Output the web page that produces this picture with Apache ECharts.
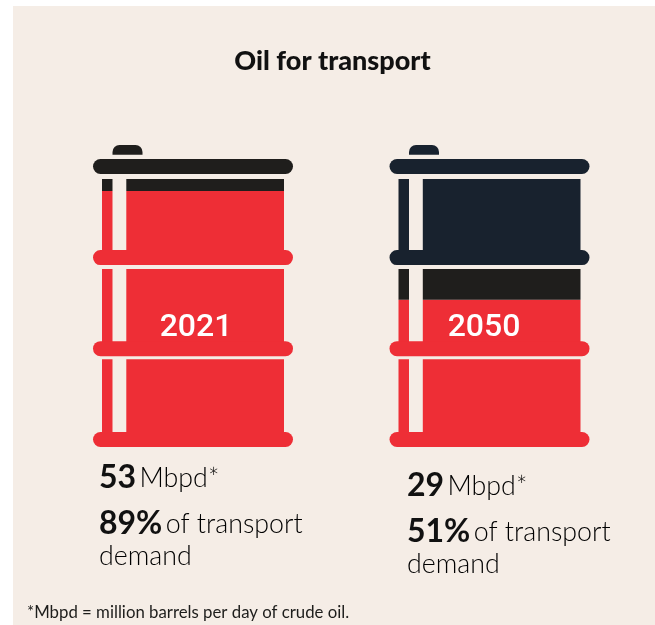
<!DOCTYPE html>
<html><head><meta charset="utf-8">
<style>html,body{margin:0;padding:0;background:#fff}#c{width:655px;height:625px}</style>
<script src="https://cdn.jsdelivr.net/npm/echarts@6/dist/echarts.min.js"></script>
</head><body><div id="c"></div>
<script>
// Data
const years = ['2021', '2050'];
const oilForTransport = [95.3, 52.3];   // red level, % of barrel height
const otherOil = [4.7, 12.1];           // black band
const notNeeded = [0, 35.6];            // navy band
const mbpd = [53, 29];
const transportShare = [89, 51];

const RED = '#ee2e36', BLACK = '#1f1e1c', NAVY = '#18222e', BG = '#f5ede6';
const FONT = 'Lato, "Open Sans", sans-serif';
const segColor = [RED, BLACK, NAVY];

function levelColor(i, level) {
  const parts = [oilForTransport[i], otherOil[i], notNeeded[i]];
  let acc = 0, last = 0;
  for (let k = 0; k < parts.length; k++) {
    if (parts[k] > 0) last = k;
    acc += parts[k];
    if (level <= acc && parts[k] > 0) return segColor[k];
  }
  return segColor[last];
}

function renderBarrel(params, api) {
  const i = api.value(0);
  const bottom = api.coord([i, 0]);
  const cx = bottom[0], y0 = bottom[1];
  const Y = lv => api.coord([i, lv])[1];
  const els = [];
  const bgRect = (x, y, w, h) => ({ type: 'rect', shape: { x, y, width: w, height: h }, style: { fill: BG } });
  const halfBody = 91.5, halfRim = 100;
  els.push(bgRect(cx - 80.5, Y(100), 13.8, y0 - Y(100)));
  [100, 64.4, 28.8].forEach(lv => els.push(bgRect(cx - halfBody - 2, Y(lv) - 5, halfBody * 2 + 4, 5)));
  [107.9, 71.9, 35.9, 0].forEach(lv => {
    els.push({ type: 'rect', shape: { x: cx - halfRim, y: Y(lv), width: halfRim * 2, height: 15, r: 7.5 },
      style: { fill: levelColor(i, lv) } });
  });
  els.push({ type: 'rect', shape: { x: cx - 80.5, y: Y(100) - 34, width: 30, height: 9.7, r: [7, 7, 0, 0] },
    style: { fill: levelColor(i, 200) } });
  els.push({ type: 'text', style: { x: cx + (i === 0 ? 3 : -5.5), y: 328, text: years[i], fill: '#fff',
    font: '500 32px Roboto, sans-serif', textAlign: 'center', textVerticalAlign: 'middle' } });
  return { type: 'group', children: els };
}

const blockX = [99, 407], blockY = [478, 486];
const graphics = [
  { type: 'rect', z: -10, shape: { x: 13, y: 6, width: 642, height: 619 }, style: { fill: BG } },
  { type: 'text', left: 27, top: 604, style: { text: '*Mbpd = million barrels per day of crude oil.', fill: '#1d1d1b', font: '400 16.8px ' + FONT } }
];
const rich = {
  b: { font: '700 32px ' + FONT, fill: '#111' },
  t: { font: '300 26.8px ' + FONT, fill: '#000' }
};
years.forEach((y, i) => {
  graphics.push({ type: 'text', x: blockX[i], y: blockY[i], style: { text: '{b|' + mbpd[i] + '} {t|Mbpd*}', rich, textVerticalAlign: 'middle' } });
  graphics.push({ type: 'text', x: blockX[i], y: blockY[i] + 46, style: { text: '{b|' + transportShare[i] + '%} {t|of transport}', rich, textVerticalAlign: 'middle' } });
  graphics.push({ type: 'text', x: blockX[i], y: blockY[i] + 78, style: { text: '{t|demand}', rich, textVerticalAlign: 'middle' } });
});

const barSeries = (name, data, color) => ({
  name, type: 'bar', stack: 'b', data, barWidth: 182, itemStyle: { color }, silent: true, animation: false
});

const chart = echarts.init(document.getElementById('c'), null, { renderer: 'canvas' });
chart.setOption({
  animation: false,
  title: { text: 'Oil for transport', left: 327.5, top: 43, textAlign: 'center',
    textStyle: { fontFamily: FONT, fontWeight: 900, fontSize: 27, color: '#111' } },
  grid: { left: 44.75, width: 593, top: 179, height: 253 },
  xAxis: { type: 'category', data: years, show: false },
  yAxis: { type: 'value', min: 0, max: 100, show: false },
  graphic: graphics,
  series: [
    barSeries('Oil for transport', oilForTransport, RED),
    barSeries('Other', otherOil, BLACK),
    barSeries('Avoided', notNeeded, NAVY),
    { type: 'custom', data: years.map((y, i) => [i]), renderItem: renderBarrel, encode: { x: 0 }, z: 5, silent: true }
  ]
});
</script></body></html>
